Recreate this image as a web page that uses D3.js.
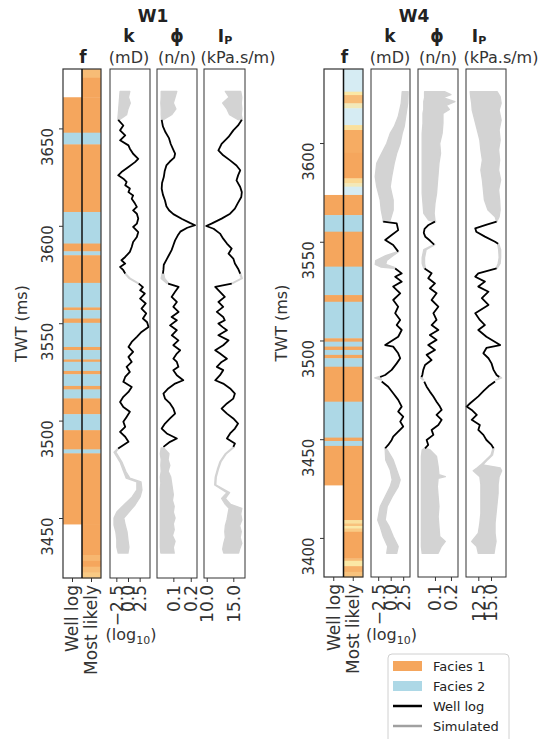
<!DOCTYPE html>
<html>
<head>
<meta charset="utf-8">
<script src="https://cdnjs.cloudflare.com/ajax/libs/d3/7.8.5/d3.min.js"></script>
<style>
  body { margin: 0; background: #fff; }
  svg { font-family: "DejaVu Sans", sans-serif; }
</style>
</head>
<body>
<div id="chart"></div>
<script>
// ---- facies intervals [twt top, twt base, facies] ----
const w1Facies = [[3666,3647.8,1],[3647.8,3641.8,2],[3641.8,3607.1,1],[3607.1,3590.9,2],[3590.9,3586.9,1],[3586.9,3584.9,2],
  [3584.9,3570.7,1],[3570.7,3558.1,2],[3558.1,3556.7,1],[3556.7,3552.4,2],[3552.4,3550.2,1],[3550.2,3537.8,2],[3537.8,3536.2,1],
  [3536.2,3531.4,2],[3531.4,3530.2,1],[3530.2,3525.5,2],[3525.5,3523.8,1],[3523.8,3517.8,2],[3517.8,3516,1],[3516,3511.4,2],
  [3511.4,3503.3,1],[3503.3,3495.1,2],[3495.1,3485.2,1],[3485.2,3483.2,2],[3483.2,3446.9,1]];
const w4Facies = [[3573.7,3563.5,1],[3563.5,3555.1,2],[3555.1,3537.4,1],[3537.4,3523,2],[3523,3519.6,1],[3519.6,3501.1,2],
  [3501.1,3499.4,1],[3499.4,3496.9,2],[3496.9,3495.2,1],[3495.2,3492.7,2],[3492.7,3491,1],[3491,3486.7,2],[3486.7,3469,1],
  [3469,3450.8,2],[3450.8,3449.1,1],[3449.1,3446.6,2],[3446.6,3426.8,1]];

// most likely facies outside the logged interval [top, base, probability of facies 1]
const w1AboveLog = [[3680.5,3676,0.8],[3676,3666,1]];
const w1BelowLog = [[3446.9,3431,1],[3431,3428,0.85],[3428,3425,1],[3425,3422,0.8],[3422,3419.2,0.7]];
const w4AboveLog = [[3637.5,3626,0.3],[3626,3624.3,0.5],[3624.3,3620.1,0.8],[3620.1,3617.6,0.45],[3617.6,3609.1,0.3],
  [3609.1,3606.6,0.55],[3606.6,3595,0.95],[3595,3582.1,1],[3582.1,3579.6,0.6],[3579.6,3577.9,0.45],[3577.9,3573.7,0.3]];
const w4BelowLog = [[3426.8,3409,1],[3409,3407.3,0.55],[3407.3,3406,0.75],[3406,3404.8,0.5],[3404.8,3403.1,0.7],
  [3403.1,3389.6,1],[3389.6,3388.4,0.8],[3388.4,3385.7,0.5],[3385.7,3382.8,0.9],[3382.8,3380.2,0.75]];

// ---- well logs [twt, value], null = gap ----
const w1K = [[3654.4,-2.1],[3651.5,-1.0],[3649,-1.7],[3646.4,-0.6],[3643.9,-1.7],[3641.3,0.1],[3639.6,0.4],[3637,1.1],[3634.4,2.2],
  [3632.7,1.5],[3630.2,0.1],[3627.6,-1.4],[3625.9,-2.1],[3624.2,-1.0],[3622.5,-0.3],[3620.8,-0.6],[3619.1,0.4],[3617.3,0.1],
  [3615.6,1.1],[3613.9,0.8],[3611.4,1.5],[3609.7,1.9],[3607.9,1.1],[3606.2,1.9],[3603.7,2.2],[3601.1,1.9],[3599.4,1.1],[3596.8,2.2],
  [3594.3,1.9],[3591.7,1.1],[3589.1,0.8],[3586.6,0.4],[3584,-0.6],[3582.3,-1.4],[3580.6,-0.6],[3578.9,-1.7],[3577.2,-1.0],[3575.5,-0.6],
  [3573,null],
  [3570.3,2.3],[3568.5,3.2],[3566.9,2.6],[3565.2,3.6],[3562.6,2.6],[3560.1,3.8],[3557.5,2.9],[3555,3.9],[3552.4,3.2],[3550.5,4.1],
  [3548.1,4.4],[3545.5,2.9],[3543,1.9],[3540.4,0.8],[3537.8,0.1],[3535.3,1.1],[3532.7,0.1],[3530.1,0.8],[3527.6,-0.3],[3525,0.4],
  [3522.4,-0.6],[3519.9,-1.0],[3517.3,0.8],[3514.7,0.1],[3512.2,-1.0],[3509.6,-1.7],[3507,-1.0],[3504.5,0.4],[3501.9,-0.3],
  [3499.4,-1.0],[3496.8,-0.6],[3494.2,-1.7],[3491.7,-0.6],[3489.1,0.1],[3485.7,-2.1]];
const w1Phi = [[3654.4,0.033],[3651,0.04],[3648,0.055],[3645,0.075],[3642,0.085],[3639,0.1],[3637,0.11],[3635,0.105],[3633,0.08],
  [3631,0.06],[3628,0.05],[3625,0.045],[3622,0.035],[3619,0.033],[3616,0.04],[3613,0.052],[3610,0.06],[3608,0.075],[3606,0.1],
  [3603.5,0.15],[3601.5,0.195],[3600.3,0.225],[3599,0.18],[3597,0.14],[3595,0.125],[3592.5,0.11],[3590,0.1],[3587.5,0.09],
  [3585,0.075],[3582.5,0.06],[3580,0.045],[3577.5,0.043],[3575.5,0.04],
  [3573,null],
  [3570.3,0.07],[3568.6,0.13],[3566.1,0.11],[3563.5,0.09],[3560.9,0.12],[3558.4,0.1],[3555.8,0.13],[3553.2,0.09],[3551.5,0.12],
  [3548.9,0.081],[3546.4,0.12],[3543.8,0.091],[3541.2,0.129],[3538.7,0.1],[3536.1,0.139],[3534.4,0.12],[3531.8,0.1],[3530.1,0.12],
  [3527.6,0.129],[3525.9,0.1],[3523.3,0.12],[3520.7,0.157],[3519,0.11],[3516.5,0.071],[3513.9,0.043],[3511.3,0.052],[3508.8,0.081],
  [3506.2,0.1],[3503.6,0.11],[3501.1,0.081],[3498.5,0.052],[3495.9,0.033],[3493.4,0.062],[3490.8,0.12],[3489.1,0.081],[3486.5,0.043]];
const w1Ip = [[3654.4,16.6],[3651.5,15.9],[3649,15.0],[3645.6,14.1],[3642.1,12.8],[3638.7,12.2],[3636.2,13.1],[3633.6,14.4],
  [3631,15.6],[3628.5,16.3],[3625.9,15.9],[3623.3,15.6],[3619.9,16.3],[3617.3,16.6],[3614.8,16.5],[3611.4,15.8],[3608.8,15.3],
  [3606.2,14.4],[3603.7,12.8],[3601.1,10.9],[3599.9,9.9],[3598.5,11.3],[3596,12.5],[3593.4,13.1],[3590.9,13.8],[3588.3,14.7],
  [3585.7,14.1],[3583.2,15.0],[3580.6,15.3],[3578,15.9],[3575.5,16.3],
  [3573,null],
  [3570.3,14.7],[3568.6,11.6],[3566.1,12.5],[3563.5,13.4],[3560.9,12.2],[3558.4,13.1],[3555.8,11.9],[3553.2,13.1],[3551.5,13.4],
  [3549.8,12.2],[3548,13.0],[3546.4,13.8],[3543.8,12.2],[3541.2,14.1],[3538.7,13.1],[3536.1,11.6],[3534.4,12.5],[3531.8,13.8],
  [3530.1,12.8],[3527.6,11.9],[3525.9,13.1],[3523.3,12.5],[3520.7,11.6],[3519,13.1],[3516.5,14.4],[3513.9,15.3],[3511.3,15.0],
  [3508.8,13.8],[3506.2,12.8],[3503.6,13.8],[3501.1,15.0],[3498.5,15.9],[3495.9,15.3],[3493.4,14.4],[3490.8,13.8],[3488.2,15.3],
  [3486.5,15.0]];

const w4K = [[3560.2,-1.5],[3559.3,1.2],[3555.9,1.5],[3553.4,0.2],[3550.9,-1.1],[3548.4,0.5],[3545,1.5],
  [3541,null],
  [3536.5,0.9],[3534,2.2],[3532.3,0.9],[3529.8,2.2],[3527.3,0.5],[3523.9,1.9],[3520.5,0.5],[3517.1,1.5],[3513.8,0.9],[3510.4,1.9],
  [3507.8,1.2],[3505.3,2.2],[3501.9,1.5],[3497.7,-1.1],[3496.9,0.5],[3493.5,1.5],[3491,1.9],[3488.4,1.2],[3485.1,0.2],[3482.5,-1.1],
  [3481.5,-2.1],[3480.8,null],[3479.2,-1.8],[3476.6,-0.5],[3473.3,0.5],[3469.9,1.5],[3466.5,2.2],[3464,1.5],[3461.4,2.5],[3458.9,1.9],
  [3456.4,2.5],[3453.8,1.5],[3451.3,0.5],[3449.6,0.2],[3447.1,-0.5],[3445.4,-1.1]];
const w4Phi = [[3560.2,0.1],[3558.5,0.06],[3556.5,0.035],[3554.5,0.03],[3552.5,0.04],[3550.5,0.07],[3548.5,0.095],
  [3542,null],
  [3536.5,0.035],[3534,0.079],[3531.5,0.058],[3528.9,0.1],[3526.4,0.068],[3523.9,0.11],[3520.5,0.079],[3517.1,0.121],[3513.8,0.09],
  [3510.4,0.11],[3507.8,0.079],[3505.3,0.121],[3502.8,0.068],[3500.3,0.11],[3497.7,0.058],[3495.2,0.1],[3492.7,0.048],[3490.1,0.079],
  [3487.6,0.038],[3485.1,0.027],[3482.5,0.021],[3481.5,0.015],[3480.8,null],[3479.2,0.033],[3476.6,0.048],[3474.1,0.068],
  [3471.6,0.09],[3469,0.11],[3466.5,0.131],[3464.8,0.142],[3462.3,0.11],[3459.8,0.142],[3457.2,0.121],[3454.7,0.079],[3452.2,0.09],
  [3449.6,0.048],[3447.1,0.058],[3445.4,0.038]];
const w4Ip = [[3560.2,16.1],[3558.5,14.0],[3556.8,11.9],[3555.1,12.1],[3552.6,13.8],[3550,15.8],[3549,16.4],
  [3543,null],
  [3536.5,16.1],[3534,12.5],[3532.3,11.9],[3529.8,13.8],[3527.3,12.5],[3524.7,14.5],[3521.4,13.2],[3518,14.5],[3513.8,11.9],
  [3510.4,12.8],[3507.8,13.8],[3505.3,12.5],[3501.9,14.1],[3497.7,16.8],[3496.2,14.1],[3493.5,13.5],[3491,14.5],[3488.4,15.1],
  [3485.1,15.5],[3482.5,16.1],[3481.5,16.6],[3480.5,null],[3479.2,15.8],[3476.8,14.5],[3474.3,13.5],[3471.7,12.5],[3468.2,10.9],
  [3466.5,10.2],[3464.8,11.2],[3462.3,12.2],[3459.8,11.2],[3457.2,12.8],[3454.7,12.5],[3452.2,13.5],[3449.6,14.1],[3447.1,15.1],
  [3445.4,15.5]];

// ---- simulated envelopes [twt, min, max], null row = break ----
const w1KSim = [[3669,-1.7,0.4],[3666,-1.8,0.1],[3663,-1.9,0.5],[3660,-2.0,0.0],[3657,-2.1,-0.3],[3654.4,-2.2,-1.9],[3654,null,null],
  [3575.5,-0.7,-0.5],[3573,0.2,0.5],[3570.3,2.2,2.4],[3570,null,null],
  [3485.7,-2.2,-2.0],[3483.8,-3.0,-2.6],[3478.7,-1.7,-1.3],[3473.6,-0.9,-0.4],[3470.5,-0.4,0.4],[3468.5,1.9,2.8],[3464.4,1.9,3.0],
  [3460.8,0.9,2.6],[3456.7,-0.9,1.5],[3453.1,-2.4,0.2],[3450,-3.0,-0.9],[3446.4,-3.0,-0.6],[3442.8,-2.6,-0.2],[3438.7,-2.4,0.0],
  [3435.1,-2.4,0.2],[3432,-2.1,0.0]];
const w1PhiSim = [[3669,0.03,0.12],[3666,0.03,0.11],[3663,0.028,0.1],[3660,0.03,0.115],[3657,0.03,0.09],[3654.4,0.032,0.04],[3654,null,null],
  [3575.5,0.035,0.045],[3573,0.03,0.05],[3570.3,0.065,0.075],[3570,null,null],
  [3486,0.03,0.045],[3483,0.025,0.075],[3480,0.03,0.07],[3477,0.028,0.08],[3474,0.03,0.07],[3471,0.025,0.085],[3468,0.028,0.09],
  [3465,0.025,0.095],[3462,0.025,0.1],[3459,0.025,0.095],[3456,0.025,0.105],[3453,0.025,0.1],[3450,0.025,0.11],[3447,0.025,0.1],
  [3444,0.025,0.105],[3441,0.025,0.095],[3438,0.025,0.11],[3435,0.025,0.1],[3432,0.028,0.105]];
const w1IpSim = [[3669,13.5,16.4],[3666,14.2,16.6],[3663,13.0,16.5],[3660,13.8,16.6],[3657,14.3,16.5],[3654.4,16.0,16.7],[3654,null,null],
  [3575.5,16.2,16.4],[3573,16.5,16.7],[3570.3,14.6,14.8],[3570,null,null],
  [3486.5,15.0,15.2],[3483,13.5,13.7],[3479,12.5,12.7],[3475,12.0,12.2],[3471,11.6,11.8],[3467,11.5,11.7],[3463,13.8,14.3],
  [3460,12.8,13.5],[3457,13.5,14.5],[3455,14.2,16.6],[3452,14.0,16.4],[3449,13.8,16.6],[3446,13.5,16.2],[3443,13.4,16.5],
  [3440,13.5,16.3],[3437,13.2,16.6],[3434,13.0,16.2],[3432,13.2,16.0]];

const w4KSim = [[3626,2.3,3.5],[3620.1,2.1,3.4],[3613.3,1.5,3.0],[3608.3,0.7,2.7],[3604.9,-0.1,2.3],[3599.8,-0.8,1.9],[3594.8,-1.8,1.2],
  [3589.7,-2.8,0.7],[3583,-3.1,0.2],[3577.9,-2.8,-0.1],[3571.1,-2.1,0.5],[3566.1,-1.9,0.5],[3561,-1.5,-0.1],[3560.2,-1.6,-1.4],[3560,null,null],
  [3545,1.4,1.6],[3543,-1.0,0.5],[3540.5,-3.0,-0.8],[3538.5,-3.1,-1.0],[3537.2,-2.0,0.6],[3536.5,0.7,1.0],[3536,null,null],
  [3482,-2.0,-1.9],[3481,-3.2,-2.0],[3480,-2.0,-1.8],[3479.5,null,null],
  [3445.4,-1.2,-1.0],[3444.6,-1.1,-0.7],[3439.5,-1.0,0.5],[3434.4,-0.1,1.2],[3429.4,0.3,1.9],[3426,-0.1,1.5],[3420.9,-1.1,0.3],
  [3415.9,-2.1,-0.7],[3409.1,-2.6,-1.1],[3405.7,-2.1,-0.3],[3400.7,-1.5,0.5],[3395.6,-0.6,1.5],[3392.2,-0.8,1.2]];
const w4PhiSim = [[3626,0.035,0.16],[3624.5,0.035,0.2],[3623,0.035,0.15],[3621,0.03,0.225],[3619,0.03,0.17],[3617,0.03,0.19],
  [3615,0.025,0.15],[3610,0.025,0.15],[3604.9,0.02,0.145],[3599.8,0.02,0.13],[3594.8,0.02,0.135],[3589.7,0.02,0.125],
  [3584.6,0.02,0.12],[3579.6,0.02,0.115],[3574.5,0.02,0.11],[3569.4,0.025,0.1],[3564.4,0.03,0.095],[3561,0.06,0.1],
  [3560.2,0.095,0.105],[3560,null,null],
  [3548.5,0.09,0.1],[3546,0.03,0.045],[3542,0.02,0.035],[3539,0.02,0.035],[3536.5,0.03,0.04],[3536,null,null],
  [3482,0.018,0.022],[3481,0.01,0.02],[3480,0.025,0.03],[3479.5,null,null],
  [3445.4,0.035,0.04],[3444.6,0.02,0.07],[3441.2,0.015,0.11],[3436.1,0.015,0.12],[3432,0.015,0.125],[3431,0.015,0.165],
  [3430.2,0.015,0.12],[3426,0.015,0.115],[3420.9,0.015,0.12],[3415.9,0.015,0.125],[3410.8,0.015,0.12],[3405.7,0.015,0.125],
  [3400.7,0.015,0.13],[3398.2,0.015,0.165],[3395.6,0.015,0.14],[3392.2,0.02,0.12]];
const w4IpSim = [[3626,10.9,16.2],[3623.5,11.0,16.8],[3620.1,11.2,17.0],[3616.7,11.3,16.6],[3611.6,11.8,17.0],[3606.6,12.3,16.6],
  [3601.5,12.8,16.8],[3596.5,13.0,16.5],[3591.4,13.3,16.7],[3586.3,13.0,16.5],[3581.3,13.3,16.9],[3576.2,13.5,16.5],
  [3571.1,13.7,16.7],[3566.1,14.4,16.8],[3562.7,15.8,16.6],[3561,16.0,16.3],[3560.2,16.0,16.2],[3560,null,null],
  [3549,16.3,16.5],[3546,16.5,16.9],[3542,16.6,16.9],[3539,16.4,16.8],[3536.5,16.0,16.2],[3536,null,null],
  [3482,16.5,16.6],[3481,16.7,17.1],[3480,15.9,16.1],[3479.5,null,null],
  [3445.4,15.4,15.6],[3442,15.0,15.3],[3439.5,14.0,14.3],[3437,13.0,13.4],[3435.5,12.3,16.8],[3434,11.5,17.1],[3431,12.8,16.6],
  [3427,13.0,16.4],[3422.6,13.0,16.4],[3417.6,13.0,16.2],[3412.5,13.0,16.0],[3407.4,12.8,15.8],[3402.4,12.5,15.8],
  [3398.2,11.2,16.0],[3395.6,12.2,15.8],[3392.2,12.5,15.6]];

// ---- ticks ----
const w1TwtTicks = [3650, 3600, 3550, 3500, 3450];
const w4TwtTicks = [3600, 3550, 3500, 3450, 3400];
const faciesTicks = ["Well log", "Most likely"];
const kTicks = [-2.5, 0, 2.5];
const phiTicks = [0.1, 0.2];
const w1IpTicks = [10, 15];
const w4IpTicks = [12.5, 15];
const legendLabels = ["Facies 1", "Facies 2", "Well log", "Simulated"];

const orange = "#f5a65d", blue = "#add8e6", simGray = "#d3d3d3", axisCol = "#333";
// probability of facies 1 -> colour for the most likely column
const probColor = d3.scaleLinear().domain([0, 0.3, 0.5, 0.75, 1])
  .range([blue, "#d6ecf3", "#fbe8a5", "#f8c27c", orange]);

const svg = d3.select("#chart").append("svg").attr("width", 541).attr("height", 739);

const wells = [
  { name: "W1", titleX: 153, range: [3680.5, 3419.2], top: 69, bottom: 578, fx: [63, 82, 101], labelX: 27,
    facies: w1Facies, above: w1AboveLog, below: w1BelowLog, twtTicks: w1TwtTicks,
    tracks: [
      { x: [110, 150], dom: [-3.86, 4.72], log: w1K, sim: w1KSim, ticks: kTicks, head: "k", unit: "(mD)", hx: 129, ux: 129, log10: true },
      { x: [157, 197], dom: [0.006, 0.236], log: w1Phi, sim: w1PhiSim, ticks: phiTicks, head: "ϕ", unit: "(n/n)", hx: 177, ux: 177 },
      { x: [204, 245], dom: [9.49, 17.2], log: w1Ip, sim: w1IpSim, ticks: w1IpTicks, head: "I", sub: "P", unit: "(kPa.s/m)", hx: 225, ux: 238 }
    ] },
  { name: "W4", titleX: 414, range: [3637.5, 3380.2], top: 69, bottom: 577, fx: [324, 343.5, 363], labelX: 287,
    facies: w4Facies, above: w4AboveLog, below: w4BelowLog, twtTicks: w4TwtTicks,
    tracks: [
      { x: [371, 410], dom: [-3.94, 3.86], log: w4K, sim: w4KSim, ticks: kTicks, head: "k", unit: "(mD)", hx: 390, ux: 390, log10: true },
      { x: [418, 458], dom: [-0.006, 0.244], log: w4Phi, sim: w4PhiSim, ticks: phiTicks, head: "ϕ", unit: "(n/n)", hx: 437, ux: 438 },
      { x: [466, 506], dom: [10.08, 17.95], log: w4Ip, sim: w4IpSim, ticks: w4IpTicks, head: "I", sub: "P", unit: "(kPa.s/m)", hx: 479, ux: 501 }
    ] }
];

function styleBottomAxis(a) {
  a.attr("font-family", "DejaVu Sans");
  a.select(".domain").remove();
  a.selectAll(".tick line").attr("stroke", axisCol);
  a.selectAll(".tick text")
    .attr("transform", "rotate(-90)")
    .attr("text-anchor", "end")
    .attr("x", -7).attr("y", 0).attr("dy", "0.35em")
    .attr("font-size", 17).attr("fill", "#333");
}

function drawWell(w) {
  const g = svg.append("g");
  const y = d3.scaleLinear().domain(w.range).range([w.top, w.bottom]);
  const [f0, fm, f1] = w.fx;

  // well title
  g.append("text").attr("x", w.titleX).attr("y", 22).attr("text-anchor", "middle")
    .attr("font-size", 17).attr("font-weight", "bold").attr("fill", "#222").text(w.name);

  // facies columns
  const mostLikely = [...w.above, ...w.facies.map(d => [d[0], d[1], d[2] === 1 ? 1 : 0]), ...w.below];
  g.selectAll("rect.flog").data(w.facies).join("rect").attr("class", "flog")
    .attr("x", f0).attr("width", fm - f0)
    .attr("y", d => y(d[0])).attr("height", d => y(d[1]) - y(d[0]) + 0.4)
    .attr("fill", d => d[2] === 1 ? orange : blue);
  g.selectAll("rect.fml").data(mostLikely).join("rect").attr("class", "fml")
    .attr("x", fm).attr("width", f1 - fm)
    .attr("y", d => y(d[0])).attr("height", d => y(d[1]) - y(d[0]) + 0.4)
    .attr("fill", d => probColor(d[2]));
  g.append("rect").attr("x", f0).attr("y", w.top).attr("width", f1 - f0).attr("height", w.bottom - w.top)
    .attr("fill", "none").attr("stroke", axisCol).attr("stroke-width", 1.2);
  g.append("line").attr("x1", fm).attr("x2", fm).attr("y1", w.top).attr("y2", w.bottom)
    .attr("stroke", "#111").attr("stroke-width", 1.5);
  g.append("text").attr("x", fm + 1).attr("y", 63).attr("text-anchor", "middle")
    .attr("font-size", 17).attr("font-weight", "bold").attr("fill", "#222").text("f");

  // TWT axis
  const ya = g.append("g").attr("transform", `translate(${f0},0)`)
    .call(d3.axisLeft(y).tickValues(w.twtTicks).tickFormat(d3.format("d")).tickSize(4).tickSizeOuter(0));
  ya.attr("font-family", "DejaVu Sans");
  ya.select(".domain").remove();
  ya.selectAll(".tick line").attr("stroke", axisCol);
  ya.selectAll(".tick text")
    .attr("transform", "rotate(-90)").attr("text-anchor", "end")
    .attr("x", 1).attr("y", -10).attr("dy", 0)
    .attr("font-size", 15).attr("fill", "#333");
  g.append("text").attr("transform", `translate(${w.labelX},${(w.top + w.bottom) / 2}) rotate(-90)`)
    .attr("text-anchor", "middle").attr("font-size", 16).attr("fill", "#333").text("TWT (ms)");

  // facies x axis
  const fb = d3.scaleBand().domain(faciesTicks).range([f0, f1]);
  const fa = g.append("g").attr("transform", `translate(0,${w.bottom})`)
    .call(d3.axisBottom(fb).tickSize(4).tickSizeOuter(0));
  styleBottomAxis(fa);

  // property tracks
  w.tracks.forEach(t => {
    const x = d3.scaleLinear().domain(t.dom).range(t.x);
    const area = d3.area().defined(d => d[1] != null)
      .y(d => y(d[0])).x0(d => x(d[1])).x1(d => x(d[2]));
    g.append("path").datum(t.sim).attr("d", area)
      .attr("fill", simGray).attr("stroke", simGray).attr("stroke-width", 1.3).attr("stroke-linejoin", "round");
    const line = d3.line().defined(d => d[1] != null).y(d => y(d[0])).x(d => x(d[1]));
    g.append("path").datum(t.log).attr("d", line)
      .attr("fill", "none").attr("stroke", "#000").attr("stroke-width", 1.8).attr("stroke-linejoin", "round");
    g.append("rect").attr("x", t.x[0]).attr("y", w.top).attr("width", t.x[1] - t.x[0]).attr("height", w.bottom - w.top)
      .attr("fill", "none").attr("stroke", axisCol).attr("stroke-width", 1);

    const xa = g.append("g").attr("transform", `translate(0,${w.bottom})`)
      .call(d3.axisBottom(x).tickValues(t.ticks).tickFormat(d3.format(".1f")).tickSize(4).tickSizeOuter(0));
    styleBottomAxis(xa);

    // headers
    const h = g.append("text").attr("x", t.hx).attr("y", 42).attr("text-anchor", "middle")
      .attr("font-size", 17).attr("font-weight", "bold").attr("fill", "#222");
    h.append("tspan").text(t.head);
    if (t.sub) h.append("tspan").attr("font-size", 11).attr("dy", 2).text(t.sub);
    g.append("text").attr("x", t.ux).attr("y", 63).attr("text-anchor", "middle")
      .attr("font-size", 16).attr("fill", "#333").text(t.unit);

    if (t.log10) {
      const lg = g.append("text").attr("x", (t.x[0] + t.x[1]) / 2 + 1).attr("y", 640).attr("text-anchor", "middle")
        .attr("font-size", 16).attr("fill", "#333");
      lg.append("tspan").text("(log");
      lg.append("tspan").attr("font-size", 11).attr("dy", 4).text("10");
      lg.append("tspan").attr("dy", -4).text(")");
    }
  });
}

wells.forEach(drawWell);

// legend
const lg = svg.append("g").attr("transform", "translate(388,654)");
lg.append("rect").attr("x", 0).attr("y", 0).attr("width", 121).attr("height", 95).attr("rx", 4)
  .attr("fill", "#fff").attr("stroke", "#d0d0d0");
const legendStyle = [
  { type: "patch", color: orange }, { type: "patch", color: blue },
  { type: "line", color: "#000" }, { type: "line", color: "#a0a0a0" }
];
legendLabels.forEach((lab, i) => {
  const row = lg.append("g").attr("transform", `translate(5,${12 + i * 20})`);
  const s = legendStyle[i];
  if (s.type === "patch") {
    row.append("rect").attr("x", 0).attr("y", -5).attr("width", 29).attr("height", 10).attr("fill", s.color);
  } else {
    row.append("line").attr("x1", 0).attr("x2", 29).attr("y1", 0).attr("y2", 0)
      .attr("stroke", s.color).attr("stroke-width", 2.5);
  }
  row.append("text").attr("x", 40).attr("y", 5).attr("font-size", 13).attr("fill", "#222").text(lab);
});
</script>
</body>
</html>
